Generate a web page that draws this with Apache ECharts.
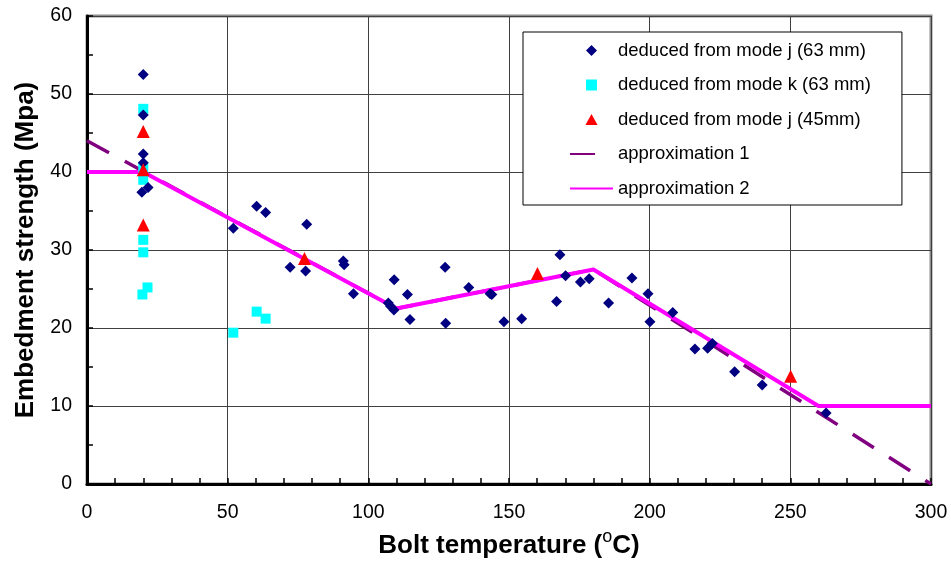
<!DOCTYPE html>
<html>
<head>
<meta charset="utf-8">
<script src="https://cdn.jsdelivr.net/npm/echarts@6/dist/echarts.min.js"></script>
<style>
html,body{margin:0;padding:0;background:#fff;}
#chart{width:951px;height:561px;}
</style>
</head>
<body>
<div id="chart"></div>
<script>
// ---- data ----
const seriesNames = [
  'deduced from mode j (63 mm)',
  'deduced from mode k (63 mm)',
  'deduced from mode j (45mm)',
  'approximation 1',
  'approximation 2'
];
const modeJ63 = [
  [20,52.5],[20,47.3],[20,42.3],[20,41.2],[19.5,37.4],[21.7,38.0],
  [52,32.8],[60.3,35.6],[63.5,34.8],[78.1,33.3],[72.2,27.8],[77.7,27.3],
  [91.1,28.6],[91.4,28.1],[94.7,24.4],[107.1,23.2],[107.9,22.8],[109.1,22.3],
  [109.2,26.2],[113.9,24.3],[114.8,21.1],[127.3,27.8],[127.5,20.6],[135.7,25.2],
  [143.3,24.4],[143.9,24.3],[148.2,20.8],[154.5,21.2],[166.9,23.4],[168.1,29.4],
  [170.1,26.7],[175.4,25.9],[178.5,26.3],[185.4,23.2],[193.7,26.4],[199.4,24.4],
  [200.1,20.8],[208.2,22.0],[216.1,17.3],[220.6,17.4],[222.3,18.0],[230.2,14.4],
  [240.0,12.7],[262.7,9.1]
];
const modeK63 = [
  [20,48.1],[20,40.5],[20,39.0],[20,31.3],[20,29.7],[21.5,25.2],[19.7,24.3],
  [52,19.4],[60.3,22.1],[63.5,21.2]
];
const modeJ45 = [
  [20,45.2],[20,40.3],[20,33.2],[77.3,28.9],[160.1,27.0],[250.1,13.8]
];
const approximation1 = [[0,44],[110,22.5],[180,27.5],[300,0]];
const approximation2 = [[0,40],[20,40],[110,22.5],[180,27.5],[260,10],[300,10]];
const xTicks = {min:0, max:300, interval:50};
const yTicks = {min:0, max:60, interval:10};

const FONT = '"Liberation Sans", Arial, sans-serif';
const chart = echarts.init(document.getElementById('chart'));
chart.setOption({
  animation: false,
  backgroundColor: '#fff',
  grid: {
    left: 87, right: 20, top: 16, bottom: 77,
    outerBoundsMode: 'none', containLabel: false,
    show: true, borderColor: '#8c8c8c', borderWidth: 3, backgroundColor: '#fff'
  },
  legend: {
    orient: 'vertical',
    left: 523, top: 32,
    padding: [9, 31, 7, 46],
    itemWidth: 43, itemHeight: 11, itemGap: 15.5,
    symbolKeepAspect: true,
    backgroundColor: '#fff', borderColor: '#000', borderWidth: 1,
    textStyle: {fontSize: 18.5, color: '#000', fontFamily: FONT},
    data: [
      {name: seriesNames[0], icon: 'path://M5,0L10,5L5,10L0,5Z'},
      {name: seriesNames[1], icon: 'path://M0,0L10,0L10,10L0,10Z'},
      {name: seriesNames[2], icon: 'path://M5.5,0L11,10L0,10Z'},
      {name: seriesNames[3], itemStyle: {opacity: 0}},
      {name: seriesNames[4], itemStyle: {opacity: 0}}
    ]
  },
  xAxis: {
    type: 'value', min: xTicks.min, max: xTicks.max, interval: xTicks.interval,
    name: 'Bolt temperature ({sup|o}C)',
    nameLocation: 'middle', nameGap: 42,
    nameTextStyle: {
      fontSize: 26, fontWeight: 'bold', color: '#000', fontFamily: FONT,
      rich: {sup: {fontSize: 18, fontWeight: 'normal', color: '#000', fontFamily: FONT, padding: [0, 0, 18, 0]}}
    },
    axisLine: {show: true, onZero: false, lineStyle: {color: '#000', width: 3}},
    axisTick: {show: true, inside: true, length: 6, lineStyle: {color: '#000', width: 1.5}},
    minorTick: {show: true, splitNumber: 5, length: 6, lineStyle: {color: '#000', width: 1.5}},
    axisLabel: {fontSize: 19.5, color: '#000', fontFamily: FONT, margin: 19},
    splitLine: {show: true, lineStyle: {color: '#404040', width: 1}}
  },
  yAxis: {
    type: 'value', min: yTicks.min, max: yTicks.max, interval: yTicks.interval,
    name: 'Embedment strength (Mpa)',
    nameLocation: 'middle', nameGap: 48,
    nameTextStyle: {fontSize: 26, fontWeight: 'bold', color: '#000', fontFamily: FONT},
    axisLine: {show: true, onZero: false, lineStyle: {color: '#000', width: 3}},
    axisTick: {show: true, inside: true, length: 6, lineStyle: {color: '#000', width: 1.5}},
    minorTick: {show: true, splitNumber: 2, length: 6, lineStyle: {color: '#000', width: 1.5}},
    axisLabel: {fontSize: 19.5, color: '#000', fontFamily: FONT, margin: 15},
    splitLine: {show: true, lineStyle: {color: '#404040', width: 1}}
  },
  series: [
    {
      name: seriesNames[0], type: 'scatter', data: modeJ63, z: 5,
      symbol: 'diamond', symbolSize: 11, itemStyle: {color: '#000080', opacity: 1}
    },
    {
      name: seriesNames[1], type: 'scatter', data: modeK63, z: 4,
      symbol: 'rect', symbolSize: 10, itemStyle: {color: '#00FFFF', opacity: 1}
    },
    {
      name: seriesNames[2], type: 'scatter', data: modeJ45, z: 6,
      symbol: 'triangle', symbolSize: 13, itemStyle: {color: '#FF0000', opacity: 1}
    },
    {
      name: seriesNames[3], type: 'line', data: approximation1, z: 2,
      symbol: 'none', itemStyle: {color: '#800080'},
      lineStyle: {color: '#800080', width: 3.5, type: [25, 18]}
    },
    {
      name: seriesNames[4], type: 'line', data: approximation2, z: 3,
      symbol: 'none', itemStyle: {color: '#FF00FF'},
      lineStyle: {color: '#FF00FF', width: 4}
    }
  ]
});
</script>
</body>
</html>
